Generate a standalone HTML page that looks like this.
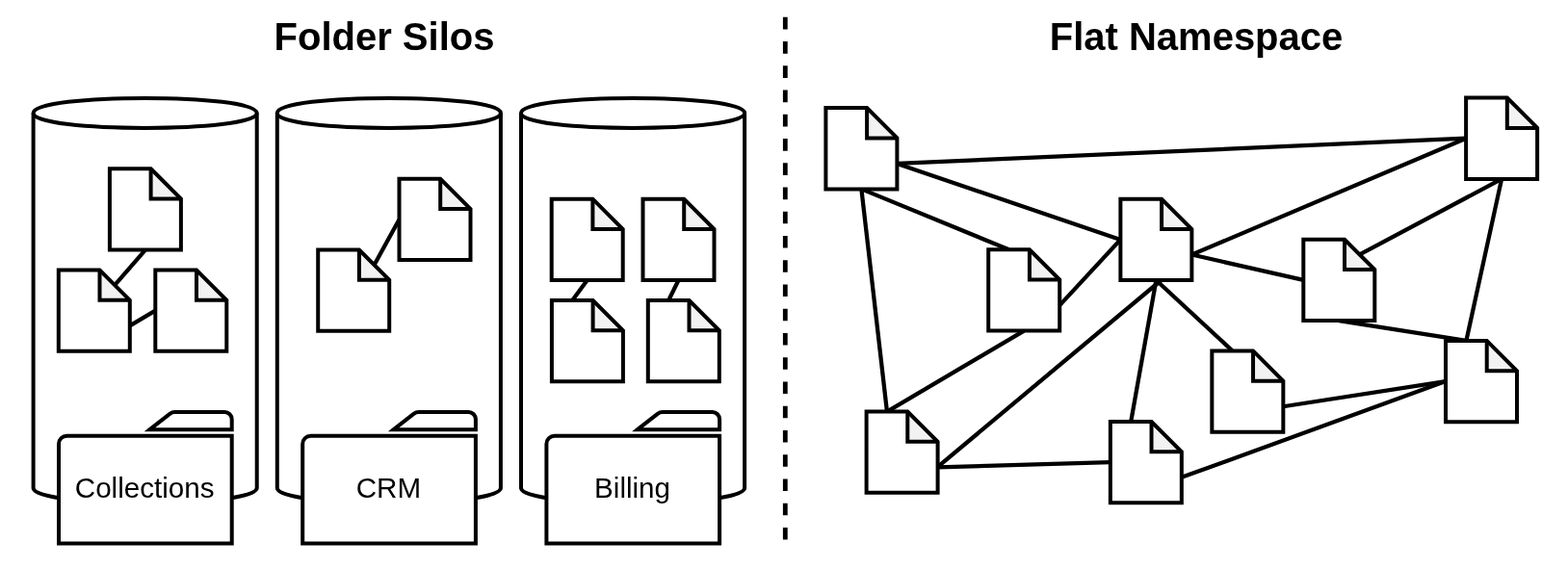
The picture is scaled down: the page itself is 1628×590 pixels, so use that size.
<!DOCTYPE html>
<html lang="en">
<head>
<meta charset="utf-8">
<title>Folder Silos vs Flat Namespace</title>
<style>
html,body{margin:0;padding:0;background:#fff}
body{width:1628px;height:590px;overflow:hidden}
svg{display:block;will-change:transform}
.c,.d,.o,.n,.l{stroke:#000;stroke-width:4.0;stroke-miterlimit:10}
.c{fill:#fff}
.d{fill:#fff;stroke:none}
.f{fill:#f2f2f2;stroke:none}
.o,.n,.l{fill:none}
.l{stroke-width:4.25}
text{font-family:"Liberation Sans",sans-serif;fill:#000;text-anchor:middle}
.tt{font-size:40px;font-weight:bold}
.lb{font-size:29.6px}
</style>
</head>
<body>
<svg role="img" aria-label="Folder Silos versus Flat Namespace" width="1628" height="590" viewBox="0 0 1628 590">
<rect width="1628" height="590" fill="#fff"/>
<text class="tt" x="399.0" y="51.7">Folder Silos</text>
<text class="tt" x="1242.0" y="51.7">Flat Namespace</text>
<path class="l" style="stroke-width:4.8;stroke-dasharray:12.6 12.64" d="M815.3 17.85V560.4"/>
<path class="c" d="M34.60 117.45C34.60 96.78 266.70 96.78 266.70 117.45V506.90C266.70 527.57 34.60 527.57 34.60 506.90Z"/><path class="n" d="M266.70 117.45C266.70 138.12 34.60 138.12 34.60 117.45"/>
<path class="c" d="M287.80 117.45C287.80 96.78 519.90 96.78 519.90 117.45V506.90C519.90 527.57 287.80 527.57 287.80 506.90Z"/><path class="n" d="M519.90 117.45C519.90 138.12 287.80 138.12 287.80 117.45"/>
<path class="c" d="M541.00 117.45C541.00 96.78 773.10 96.78 773.10 117.45V506.90C773.10 527.57 541.00 527.57 541.00 506.90Z"/><path class="n" d="M773.10 117.45C773.10 138.12 541.00 138.12 541.00 117.45"/>
<path class="l" d="M150.90 259.60L119.15 296.15"/>
<path class="l" d="M134.80 338.30L161.30 322.65"/>
<path class="l" d="M414.50 227.95L388.55 275.15"/>
<path class="l" d="M609.70 291.00L594.25 312.00"/>
<path class="l" d="M704.50 291.00L694.15 312.00"/>
<g transform="translate(113.90 175.30)"><path class="d" d="M0 0H42.70L74.00 31.30V84.30H0Z"/><path class="f" d="M42.70 0V31.30H74.00Z"/><path class="o" d="M0 0H42.70L74.00 31.30V84.30H0Z"/><path class="o" d="M42.70 0V31.30H74.00"/></g>
<g transform="translate(60.80 280.50)"><path class="d" d="M0 0H42.70L74.00 31.30V84.30H0Z"/><path class="f" d="M42.70 0V31.30H74.00Z"/><path class="o" d="M0 0H42.70L74.00 31.30V84.30H0Z"/><path class="o" d="M42.70 0V31.30H74.00"/></g>
<g transform="translate(161.30 280.50)"><path class="d" d="M0 0H42.70L74.00 31.30V84.30H0Z"/><path class="f" d="M42.70 0V31.30H74.00Z"/><path class="o" d="M0 0H42.70L74.00 31.30V84.30H0Z"/><path class="o" d="M42.70 0V31.30H74.00"/></g>
<g transform="translate(414.50 185.80)"><path class="d" d="M0 0H42.70L74.00 31.30V84.30H0Z"/><path class="f" d="M42.70 0V31.30H74.00Z"/><path class="o" d="M0 0H42.70L74.00 31.30V84.30H0Z"/><path class="o" d="M42.70 0V31.30H74.00"/></g>
<g transform="translate(330.20 259.50)"><path class="d" d="M0 0H42.70L74.00 31.30V84.30H0Z"/><path class="f" d="M42.70 0V31.30H74.00Z"/><path class="o" d="M0 0H42.70L74.00 31.30V84.30H0Z"/><path class="o" d="M42.70 0V31.30H74.00"/></g>
<g transform="translate(572.70 206.70)"><path class="d" d="M0 0H42.70L74.00 31.30V84.30H0Z"/><path class="f" d="M42.70 0V31.30H74.00Z"/><path class="o" d="M0 0H42.70L74.00 31.30V84.30H0Z"/><path class="o" d="M42.70 0V31.30H74.00"/></g>
<g transform="translate(667.50 206.70)"><path class="d" d="M0 0H42.70L74.00 31.30V84.30H0Z"/><path class="f" d="M42.70 0V31.30H74.00Z"/><path class="o" d="M0 0H42.70L74.00 31.30V84.30H0Z"/><path class="o" d="M42.70 0V31.30H74.00"/></g>
<g transform="translate(572.90 312.00)"><path class="d" d="M0 0H42.70L74.00 31.30V84.30H0Z"/><path class="f" d="M42.70 0V31.30H74.00Z"/><path class="o" d="M0 0H42.70L74.00 31.30V84.30H0Z"/><path class="o" d="M42.70 0V31.30H74.00"/></g>
<g transform="translate(672.80 312.00)"><path class="d" d="M0 0H42.70L74.00 31.30V84.30H0Z"/><path class="f" d="M42.70 0V31.30H74.00Z"/><path class="o" d="M0 0H42.70L74.00 31.30V84.30H0Z"/><path class="o" d="M42.70 0V31.30H74.00"/></g>
<path class="c" d="M155.50 446.20L176.34 429.90Q178.70 428.05 181.70 428.05H233.20A7.5 7.5 0 0 1 240.70 435.55V446.20Z"/><path class="c" d="M61.00 564.50V461.20A8.5 8.5 0 0 1 69.50 452.70H240.70V564.50Z"/><text class="lb" x="150.15" y="516.70">Collections</text>
<path class="c" d="M408.70 446.20L429.54 429.90Q431.90 428.05 434.90 428.05H486.40A7.5 7.5 0 0 1 493.90 435.55V446.20Z"/><path class="c" d="M314.20 564.50V461.20A8.5 8.5 0 0 1 322.70 452.70H493.90V564.50Z"/><text class="lb" x="403.35" y="516.70">CRM</text>
<path class="c" d="M661.90 446.20L682.74 429.90Q685.10 428.05 688.10 428.05H739.60A7.5 7.5 0 0 1 747.10 435.55V446.20Z"/><path class="c" d="M567.40 564.50V461.20A8.5 8.5 0 0 1 575.90 452.70H747.10V564.50Z"/><text class="lb" x="656.55" y="516.70">Billing</text>
<path class="l" d="M931.40 169.90L1522.11 143.73"/>
<path class="l" d="M931.40 169.90L1163.38 248.89"/>
<path class="l" d="M894.40 196.40L1047.57 259.31"/>
<path class="l" d="M894.40 196.40L920.95 427.55"/>
<path class="l" d="M1100.22 317.11L1163.38 248.89"/>
<path class="l" d="M1237.38 264.54L1522.11 143.73"/>
<path class="l" d="M1237.38 264.54L1353.30 290.94"/>
<path class="l" d="M1411.65 264.44L1559.11 185.88"/>
<path class="l" d="M1559.11 185.88L1522.36 353.95"/>
<path class="l" d="M1390.30 333.10L1522.36 353.95"/>
<path class="l" d="M1063.22 343.61L920.95 427.55"/>
<path class="l" d="M1207.50 289.50L971.30 486.90"/>
<path class="l" d="M1200.38 291.04L1174.18 438.07"/>
<path class="l" d="M1200.38 291.04L1279.69 364.46"/>
<path class="l" d="M973.60 485.35L1152.83 480.22"/>
<path class="l" d="M1332.34 422.26L1501.01 396.10"/>
<path class="l" d="M1226.83 495.87L1501.01 396.10"/>
<g transform="translate(857.40 112.10)"><path class="d" d="M0 0H42.70L74.00 31.30V84.30H0Z"/><path class="f" d="M42.70 0V31.30H74.00Z"/><path class="o" d="M0 0H42.70L74.00 31.30V84.30H0Z"/><path class="o" d="M42.70 0V31.30H74.00"/></g>
<g transform="translate(1522.11 101.58)"><path class="d" d="M0 0H42.70L74.00 31.30V84.30H0Z"/><path class="f" d="M42.70 0V31.30H74.00Z"/><path class="o" d="M0 0H42.70L74.00 31.30V84.30H0Z"/><path class="o" d="M42.70 0V31.30H74.00"/></g>
<g transform="translate(1163.38 206.74)"><path class="d" d="M0 0H42.70L74.00 31.30V84.30H0Z"/><path class="f" d="M42.70 0V31.30H74.00Z"/><path class="o" d="M0 0H42.70L74.00 31.30V84.30H0Z"/><path class="o" d="M42.70 0V31.30H74.00"/></g>
<g transform="translate(1026.22 259.31)"><path class="d" d="M0 0H42.70L74.00 31.30V84.30H0Z"/><path class="f" d="M42.70 0V31.30H74.00Z"/><path class="o" d="M0 0H42.70L74.00 31.30V84.30H0Z"/><path class="o" d="M42.70 0V31.30H74.00"/></g>
<g transform="translate(1353.30 248.80)"><path class="d" d="M0 0H42.70L74.00 31.30V84.30H0Z"/><path class="f" d="M42.70 0V31.30H74.00Z"/><path class="o" d="M0 0H42.70L74.00 31.30V84.30H0Z"/><path class="o" d="M42.70 0V31.30H74.00"/></g>
<g transform="translate(1258.34 364.46)"><path class="d" d="M0 0H42.70L74.00 31.30V84.30H0Z"/><path class="f" d="M42.70 0V31.30H74.00Z"/><path class="o" d="M0 0H42.70L74.00 31.30V84.30H0Z"/><path class="o" d="M42.70 0V31.30H74.00"/></g>
<g transform="translate(1501.01 353.95)"><path class="d" d="M0 0H42.70L74.00 31.30V84.30H0Z"/><path class="f" d="M42.70 0V31.30H74.00Z"/><path class="o" d="M0 0H42.70L74.00 31.30V84.30H0Z"/><path class="o" d="M42.70 0V31.30H74.00"/></g>
<g transform="translate(899.60 427.55)"><path class="d" d="M0 0H42.70L74.00 31.30V84.30H0Z"/><path class="f" d="M42.70 0V31.30H74.00Z"/><path class="o" d="M0 0H42.70L74.00 31.30V84.30H0Z"/><path class="o" d="M42.70 0V31.30H74.00"/></g>
<g transform="translate(1152.83 438.07)"><path class="d" d="M0 0H42.70L74.00 31.30V84.30H0Z"/><path class="f" d="M42.70 0V31.30H74.00Z"/><path class="o" d="M0 0H42.70L74.00 31.30V84.30H0Z"/><path class="o" d="M42.70 0V31.30H74.00"/></g>
</svg>
</body>
</html>
